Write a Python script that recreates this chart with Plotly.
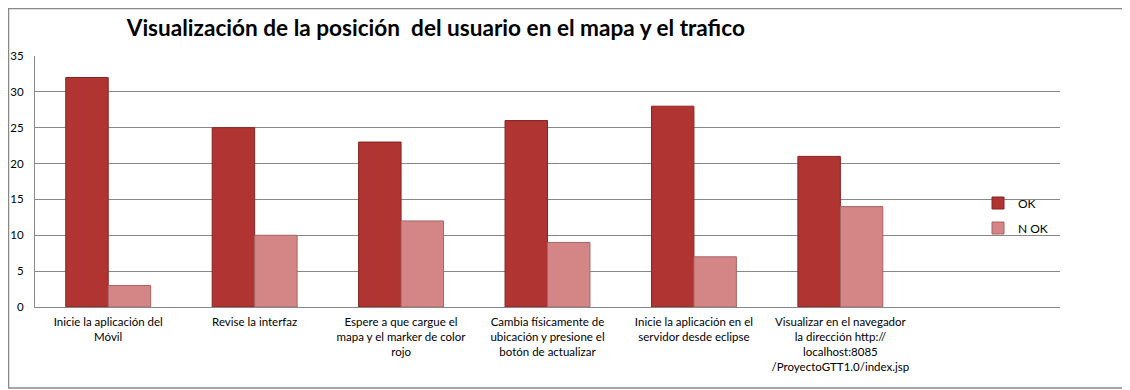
import plotly.graph_objects as go

categories = [
    "Inicie la aplicación del<br>Móvil",
    "Revise la interfaz",
    "Espere a que cargue el<br>mapa y el marker de color<br>rojo",
    "Cambia físicamente de<br>ubicación y presione el<br>botón de actualizar",
    "Inicie la aplicación en el<br>servidor desde eclipse",
    "Visualizar en el navegador<br>la dirección http://<br>localhost:8085<br>/ProyectoGTT1.0/index.jsp",
]
ok_values = [32, 25, 23, 26, 28, 21]
nok_values = [3, 10, 12, 9, 7, 14]
y_ticks = [0, 5, 10, 15, 20, 25, 30, 35]

FONT = "Lato, 'Open Sans', sans-serif"

fig = go.Figure()
fig.add_trace(go.Bar(
    name="OK", x=categories, y=ok_values, legendgroup="a",
    marker=dict(color="#b03431", line=dict(color="#8a2320", width=1)),
))
fig.add_trace(go.Bar(
    name="N OK", x=categories, y=nok_values, legendgroup="b",
    marker=dict(color="#d48585", line=dict(color="#a86565", width=1)),
))

fig.update_layout(
    width=1122, height=382,
    margin=dict(l=27, r=70, t=48, b=83, autoexpand=False),
    paper_bgcolor="white", plot_bgcolor="white",
    barmode="group", bargap=0.42, bargroupgap=0,
    font=dict(family=FONT, size=12, color="#000"),
    title=dict(
        text="<b>Visualización de la posición  del usuario en el mapa y el trafico</b>",
        x=0.391, xanchor="center", xref="paper",
        y=0.948, yanchor="middle", yref="container",
        font=dict(family=FONT, size=22.6, color="#000"),
    ),
    legend=dict(
        x=0.92, xanchor="left", y=0.3645, yanchor="middle",
        bgcolor="rgba(0,0,0,0)", font=dict(size=12),
        itemwidth=30, traceorder="grouped", tracegroupgap=6,
    ),
    showlegend=True,
)
fig.update_xaxes(
    type="category", range=[-0.5, 6.5], automargin=False,
    showline=True, linecolor="#888", linewidth=1,
    showgrid=False, ticks="", tickangle=0,
    ticklabelstandoff=4, tickfont=dict(size=11.5),
)
fig.update_yaxes(
    range=[0, 35], tickvals=y_ticks, automargin=False,
    showline=True, linecolor="#888", linewidth=1,
    showgrid=True, gridcolor="#888", gridwidth=1,
    ticks="", ticklabelstandoff=8, tickfont=dict(size=11.5),
    zeroline=False,
)
fig.add_shape(type="rect", xref="paper", yref="paper",
              x0=-26.5/1025, x1=1093/1025, y0=-81/251, y1=1+47.5/251,
              line=dict(color="#888", width=1.5), fillcolor="rgba(0,0,0,0)", layer="below")

fig.write_html("out.html")
